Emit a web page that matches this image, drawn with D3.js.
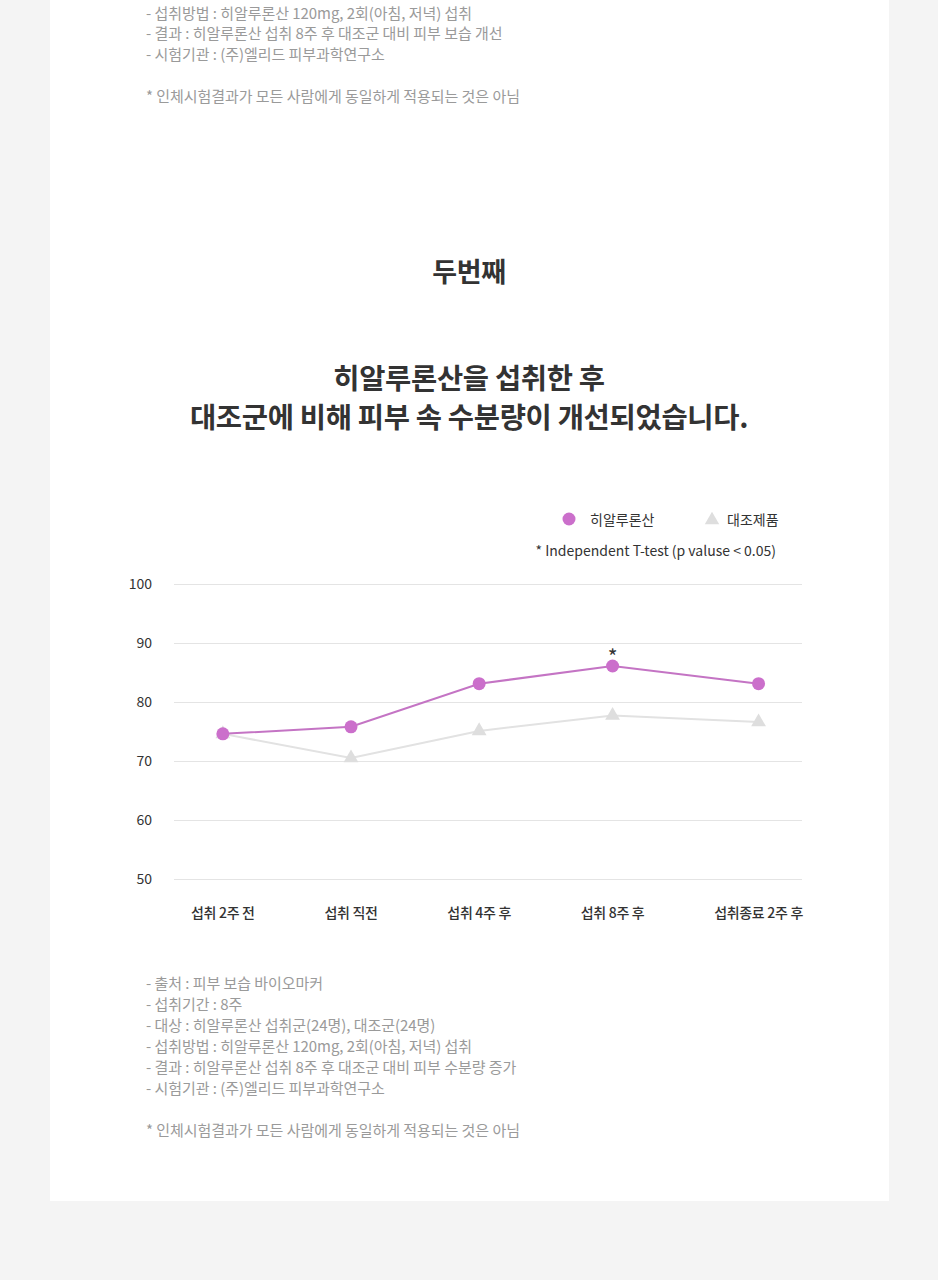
<!DOCTYPE html>
<html><head><meta charset="utf-8">
<script src="https://cdn.jsdelivr.net/npm/d3@7/dist/d3.min.js"></script>
<style>
html,body{margin:0;padding:0;background:#f4f4f4;}
svg{display:block;font-family:"Noto Sans CJK KR","Noto Sans",sans-serif;}
</style></head>
<body>
<svg id="c" width="938" height="1280"></svg>
<script>
const categories = ["섭취 2주 전","섭취 직전","섭취 4주 후","섭취 8주 후","섭취종료 2주 후"];
const hyaluronic = [74.6, 75.8, 83.1, 86.1, 83.1];
const control = [74.6, 70.5, 75.1, 77.7, 76.6];
const yTicks = [50, 60, 70, 80, 90, 100];
const significant = [false, false, false, true, false];
const seriesNames = ["히알루론산", "대조제품"];
const topNotes = [
  "- 섭취방법 : 히알루론산 120mg, 2회(아침, 저녁) 섭취",
  "- 결과 : 히알루론산 섭취 8주 후 대조군 대비 피부 보습 개선",
  "- 시험기관 : (주)엘리드 피부과학연구소"
];
const bottomNotes = [
  "- 출처 : 피부 보습 바이오마커",
  "- 섭취기간 : 8주",
  "- 대상 : 히알루론산 섭취군(24명), 대조군(24명)",
  "- 섭취방법 : 히알루론산 120mg, 2회(아침, 저녁) 섭취",
  "- 결과 : 히알루론산 섭취 8주 후 대조군 대비 피부 수분량 증가",
  "- 시험기관 : (주)엘리드 피부과학연구소"
];
const disclaimer = "* 인체시험결과가 모든 사람에게 동일하게 적용되는 것은 아님";
const sectionLabel = "두번째";
const headline = ["히알루론산을 섭취한 후", "대조군에 비해 피부 속 수분량이 개선되었습니다."];
const testNote = "* Independent T-test (p valuse < 0.05)";

const svg = d3.select("#c");
const PINK = "#cb6fcb", PINKLINE = "#c474c4", GRAY = "#dedede", GRAYLINE = "#e2e2e2";

// card
svg.append("rect").attr("x",50).attr("y",-10).attr("width",839).attr("height",1211).attr("fill","#fff");

// notes
const noteColor = "#9a9a9a";
function note(t, yy){
  svg.append("text").attr("x",146).attr("y",yy).attr("dominant-baseline","central")
    .attr("font-size",15).attr("fill",noteColor).attr("letter-spacing","-0.05").text(t);
}
topNotes.forEach((t,i)=>note(t, 12+i*20.5));
note(disclaimer, 95);
bottomNotes.forEach((t,i)=>note(t, 982+i*21));
note(disclaimer, 1129);

// titles
svg.append("text").attr("x",469).attr("y",270).attr("text-anchor","middle").attr("dominant-baseline","central")
  .attr("font-size",27).attr("font-weight",700).attr("fill","#333").attr("letter-spacing","-0.3").text(sectionLabel);
headline.forEach((t,i)=>{
  svg.append("text").attr("x",469).attr("y",376+i*39).attr("text-anchor","middle").attr("dominant-baseline","central")
    .attr("font-size",28.5).attr("font-weight",700).attr("fill","#333").attr("letter-spacing","-0.3").text(t);
});

// legend
svg.append("circle").attr("cx",569).attr("cy",519).attr("r",6.5).attr("fill",PINK);
svg.append("text").attr("x",590).attr("y",519).attr("dominant-baseline","central").attr("font-size",14).attr("fill","#333").text(seriesNames[0]);
svg.append("path").attr("d",d3.symbol(d3.symbolTriangle,90)()).attr("transform","translate(712,520)").attr("fill",GRAY);
svg.append("text").attr("x",727).attr("y",519).attr("dominant-baseline","central").attr("font-size",14).attr("fill","#333").text(seriesNames[1]);
svg.append("text").attr("x",776).attr("y",550).attr("text-anchor","end").attr("dominant-baseline","central").attr("font-size",14).attr("fill","#333").text(testNote);

// scales
const plotL = 174, plotR = 802;
const y = d3.scaleLinear().domain([50,100]).range([879,584]);

// x labels laid out space-between from 191 to 803
const labelL = 191, labelR = 803;
const xl = svg.append("g");
const lbls = xl.selectAll("text").data(categories).join("text")
  .attr("y",912).attr("dominant-baseline","central").attr("font-size",14).attr("font-weight",500)
  .attr("fill","#333").attr("letter-spacing","-0.3").text(d=>d);
const widths = [];
lbls.each(function(){ widths.push(this.getComputedTextLength()); });
const gap = (labelR-labelL-d3.sum(widths))/(categories.length-1);
const centers = [];
let cur = labelL;
widths.forEach(w=>{ centers.push(cur+w/2); cur += w+gap; });
const x = d3.scaleOrdinal().domain(categories).range(centers);
lbls.attr("x",d=>x(d)).attr("text-anchor","middle");

// grid + y axis
const ya = svg.append("g").attr("transform",`translate(${plotL},0)`)
  .call(d3.axisLeft(y).tickValues(yTicks).tickSize(-(plotR-plotL)).tickPadding(22));
ya.select(".domain").remove();
ya.selectAll(".tick line").attr("stroke","#e4e4e4");
ya.selectAll(".tick text").attr("font-size",14).attr("fill","#333").attr("font-family",'"Noto Sans CJK KR",sans-serif')
  .attr("dy","0.32em");

// lines
const line = d3.line().x((d,i)=>x(categories[i])).y(d=>y(d));
svg.append("path").attr("d",line(control)).attr("fill","none").attr("stroke",GRAYLINE).attr("stroke-width",2);
svg.selectAll(".tri").data(control).join("path").attr("class","tri")
  .attr("d",d3.symbol(d3.symbolTriangle,95)())
  .attr("transform",(d,i)=>`translate(${x(categories[i])},${y(d)})`).attr("fill",GRAY);
svg.append("path").attr("d",line(hyaluronic)).attr("fill","none").attr("stroke",PINKLINE).attr("stroke-width",2);
svg.selectAll(".dot").data(hyaluronic).join("circle").attr("class","dot")
  .attr("cx",(d,i)=>x(categories[i])).attr("cy",d=>y(d)).attr("r",6.5).attr("fill",PINK);
svg.selectAll(".sig").data(hyaluronic.map((v,i)=>({v,i})).filter(d=>significant[d.i])).join("text").attr("class","sig")
  .attr("x",d=>x(categories[d.i])).attr("y",d=>y(d.v)-1).attr("text-anchor","middle")
  .attr("font-size",21).attr("fill","#333").text("*");
</script>
</body></html>
